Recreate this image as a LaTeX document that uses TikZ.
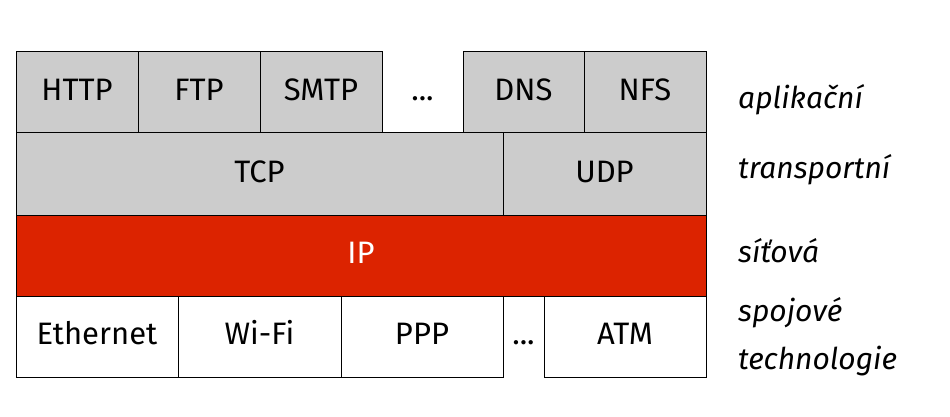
\documentclass[tikz,border=0pt]{standalone}
\usepackage{fontspec}
\setmainfont{Fira Sans}
\usepackage{tikz}
\usetikzlibrary{positioning}
\definecolor{LayerGrey}{RGB}{204, 204, 204}
\definecolor{LayerRed}{RGB}{220, 35, 0}

\tikzset{
    cell/.style={draw=black, line width=1pt, inner sep=0pt, minimum height=81pt,
        text height=1.6em, text depth=0pt, font=\fontsize{31}{36}\selectfont},
    proto/.style={cell, fill=LayerGrey},
    link/.style={cell, fill=white},
    gap/.style={cell, draw=none},
    layer/.style={anchor=base west, inner sep=0pt, align=left,
        font=\fontsize{30}{48}\selectfont\itshape}
}

\begin{document}
\begin{tikzpicture}[x=1pt, y=-1pt]
    \useasboundingbox (0,0) rectangle (950,417);
    % Aplikacni vrstva
    \node[proto, minimum width=122pt] (http) at (77,92.5) {HTTP};
    \node[proto, minimum width=122pt] (ftp) at (199,92.5) {FTP};
    \node[proto, minimum width=122pt] (smtp) at (321,92.5) {SMTP};
    \node[gap, minimum width=81pt] (appdots) at (422.5,92.5) {...};
    \node[proto, minimum width=121pt] (dns) at (523.5,92.5) {DNS};
    \node[proto, minimum width=122pt] (nfs) at (645,92.5) {NFS};

    % Transportni vrstva
    \node[proto, minimum width=487pt, minimum height=82pt] (tcp) at (259.5,174) {TCP};
    \node[proto, minimum width=203pt, minimum height=82pt] (udp) at (604.5,174) {UDP};

    % Sitova vrstva
    \node[cell, fill=LayerRed, text=white, minimum width=690pt] (ip) at (361,255.5) {IP};

    % Spojove technologie
    \node[link, minimum width=162pt] (eth) at (97,336.5) {Ethernet};
    \node[link, minimum width=163pt] (wifi) at (259.5,336.5) {Wi-Fi};
    \node[link, minimum width=162pt] (ppp) at (422,336.5) {PPP};
    \node[gap, minimum width=41pt] (linkdots) at (523.5,336.5) {...};
    \node[link, minimum width=162pt] (atm) at (625,336.5) {ATM};

    % Popisky vrstev
    \node[layer] (lblapp) at (738,109) {aplikační};
    \node[layer] (lbltrans) at (738,178) {transportní};
    \node[layer] (lblnet) at (738,262) {síťová};
    \node[layer] (lbllink) at (738,369) {spojové\\technologie};
\end{tikzpicture}
\end{document}
